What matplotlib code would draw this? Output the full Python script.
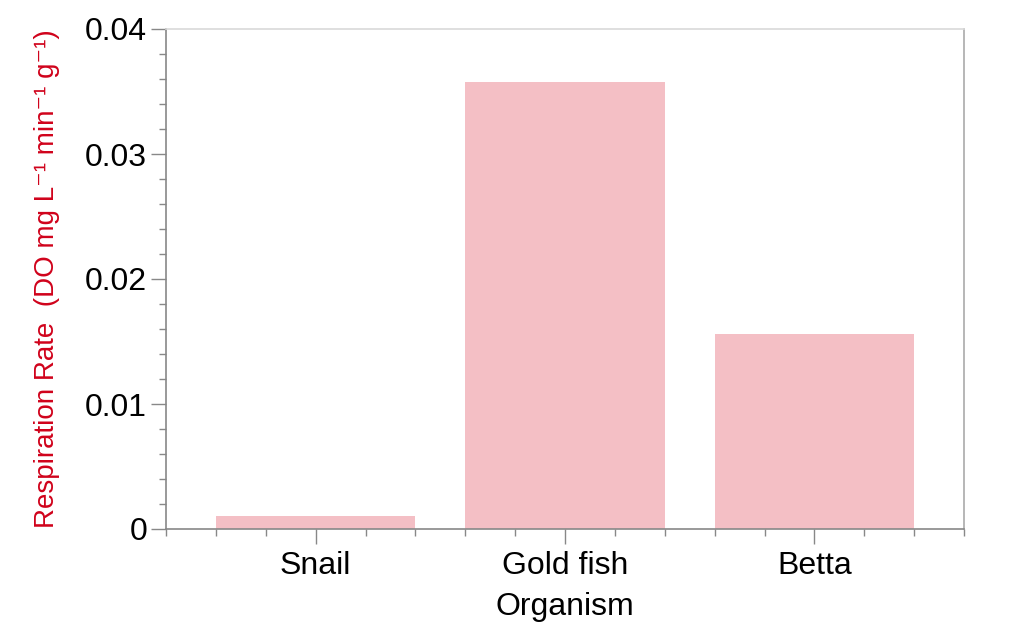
import numpy as np
import matplotlib
matplotlib.use("Agg")
import matplotlib.pyplot as plt
from matplotlib.ticker import FixedLocator, MultipleLocator

organisms = ["Snail", "Gold fish", "Betta"]
rates = [0.00105, 0.03575, 0.01563]
y_ticks = [0, 0.01, 0.02, 0.03, 0.04]
y_tick_labels = ["0", "0.01", "0.02", "0.03", "0.04"]

plt.rcParams['font.family'] = ['Liberation Sans', 'DejaVu Sans']

fig = plt.figure(figsize=(10.24, 6.4), dpi=100)
ax = fig.add_axes([166/1024, 1-529/640, (964-166)/1024, (529-29)/640])

x = np.arange(len(organisms))
ax.bar(x, rates, width=0.8, color="#f4bfc5", zorder=2)

ax.set_xlim(-0.6, len(organisms) - 0.4)
ax.set_ylim(0, 0.04)

ax.set_xticks(x)
ax.set_xticklabels(organisms, fontsize=23)
minor_x = [v for v in np.round(np.arange(-0.6, len(organisms) - 0.39, 0.2), 2) if abs(v - round(v)) > 1e-6]
ax.xaxis.set_minor_locator(FixedLocator(minor_x))

ax.set_yticks(y_ticks)
ax.set_yticklabels(y_tick_labels, fontsize=23)
ax.yaxis.set_minor_locator(MultipleLocator(0.002))

ax.tick_params(axis='y', which='major', length=11, width=1, color='#888888', pad=2.5)
ax.tick_params(axis='x', which='major', length=11, width=1, color='#888888', pad=5)
ax.tick_params(axis='both', which='minor', length=5, width=1, color='#888888')

for s in ['left', 'bottom']:
    ax.spines[s].set_color('#888888')
ax.spines['right'].set_color('#aaaaaa')
ax.spines['top'].set_color('#d9d9d9')
for s in ax.spines.values():
    s.set_linewidth(1.2)

ax.set_xlabel("Organism", fontsize=23, labelpad=8)
ax.set_ylabel("Respiration Rate  (DO mg L\u207b\u00b9 min\u207b\u00b9 g\u207b\u00b9)",
              fontsize=20, color="#d0021b", labelpad=18)

fig.savefig("out.png", dpi=100, facecolor="white")
